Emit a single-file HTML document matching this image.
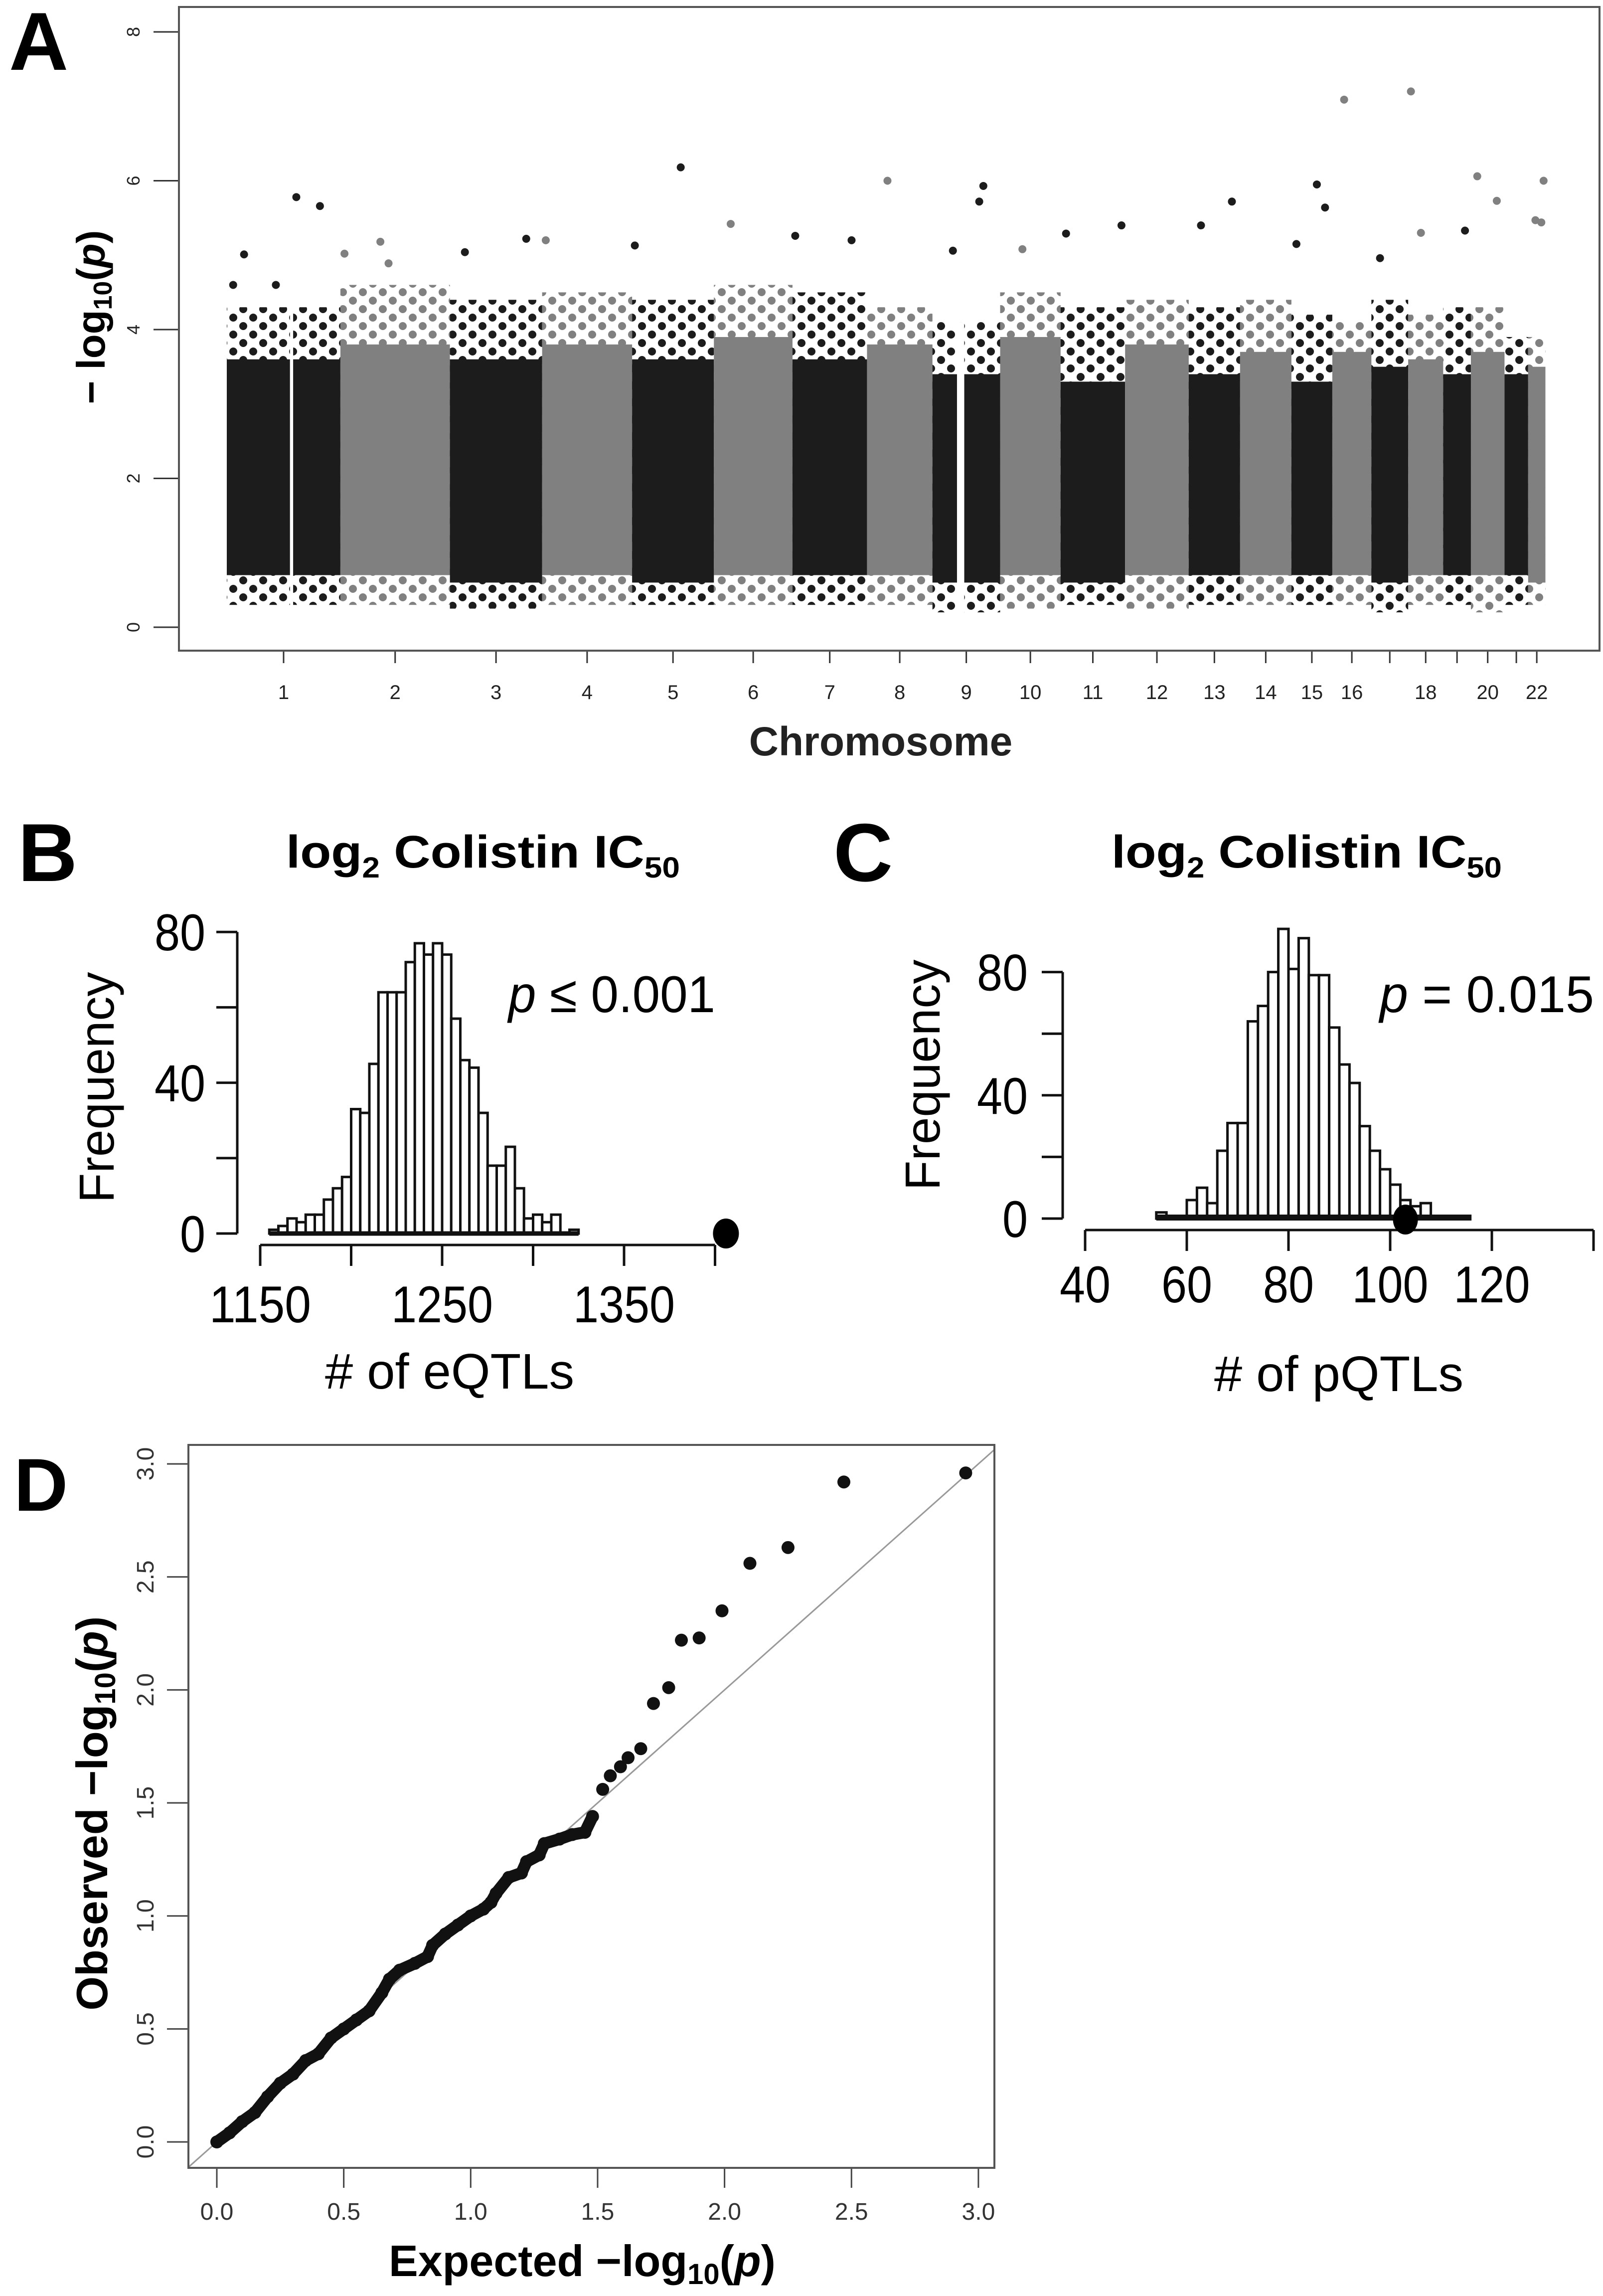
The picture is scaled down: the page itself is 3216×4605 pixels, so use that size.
<!DOCTYPE html>
<html><head><meta charset="utf-8">
<style>
html,body{margin:0;padding:0;background:#fff;}
svg{display:block;}
text{font-family:"Liberation Sans",sans-serif;}
.nar{font-family:"Liberation Sans Narrow","Liberation Sans",sans-serif;}
</style></head>
<body>
<svg id="fig" width="3216" height="4605" viewBox="0 0 3216 4605" xmlns="http://www.w3.org/2000/svg">
<defs>
<pattern id="dotsK" x="0" y="0" width="40" height="34" patternUnits="userSpaceOnUse"><circle cx="8" cy="8" r="8" fill="#1c1c1c"/><circle cx="28" cy="25" r="8" fill="#1c1c1c"/></pattern>
<pattern id="dotsG" x="0" y="0" width="40" height="34" patternUnits="userSpaceOnUse"><circle cx="8" cy="8" r="8" fill="#808080"/><circle cx="28" cy="25" r="8" fill="#808080"/></pattern>
<clipPath id="qqclip"><rect x="378" y="2898" width="1617" height="1450"/></clipPath>
</defs>
<text x="18" y="140" font-size="165" font-weight="bold">A</text>
<text x="36" y="1767" font-size="165" font-weight="bold">B</text>
<text x="1672" y="1767" font-size="165" font-weight="bold">C</text>
<text x="28" y="3030" font-size="150" font-weight="bold">D</text>

<g id="panelA"></g>
<rect x="359" y="14" width="2850" height="1291" fill="none" stroke="#555" stroke-width="4"/>
<text transform="translate(210,636) rotate(-90)" text-anchor="middle" font-size="80" font-weight="bold">− log<tspan font-size="52" dy="14">10</tspan><tspan dy="-14">(</tspan><tspan font-style="italic">p</tspan>)</text>
<text x="1767" y="1515" text-anchor="middle" font-size="82" font-weight="bold" fill="#222">Chromosome</text>

<g id="panelB"></g>
<text x="574" y="1740" font-size="92" font-weight="bold" textLength="790" lengthAdjust="spacingAndGlyphs">log<tspan font-size="58" dy="20">2</tspan><tspan dy="-20"> Colistin IC</tspan><tspan font-size="58" dy="20">50</tspan></text>
<text x="1020" y="2030" font-size="104" textLength="415" lengthAdjust="spacingAndGlyphs"><tspan font-style="italic">p</tspan> ≤ 0.001</text>
<text transform="translate(228,2181) rotate(-90)" text-anchor="middle" font-size="98">Frequency</text>
<text x="652" y="2785" font-size="100" textLength="500" lengthAdjust="spacingAndGlyphs"># of eQTLs</text>

<g id="panelC"></g>
<text x="2230" y="1740" font-size="92" font-weight="bold" textLength="783" lengthAdjust="spacingAndGlyphs">log<tspan font-size="58" dy="20">2</tspan><tspan dy="-20"> Colistin IC</tspan><tspan font-size="58" dy="20">50</tspan></text>
<text x="2768" y="2030" font-size="104" textLength="430" lengthAdjust="spacingAndGlyphs"><tspan font-style="italic">p</tspan> = 0.015</text>
<text transform="translate(1885,2156) rotate(-90)" text-anchor="middle" font-size="98">Frequency</text>
<text x="2436" y="2790" font-size="100" textLength="500" lengthAdjust="spacingAndGlyphs"># of pQTLs</text>

<g id="panelD"></g>
<rect x="378" y="2898" width="1617" height="1450" fill="none" stroke="#555" stroke-width="4"/>
<text transform="translate(215,3637) rotate(-90)" text-anchor="middle" font-size="88" font-weight="bold">Observed −log<tspan font-size="58" dy="16">10</tspan><tspan dy="-16">(</tspan><tspan font-style="italic">p</tspan>)</text>
<text x="1168" y="4565" text-anchor="middle" font-size="88" font-weight="bold">Expected −log<tspan font-size="58" dy="16">10</tspan><tspan dy="-16">(</tspan><tspan font-style="italic">p</tspan>)</text>
</svg>
<script>
const NS="http://www.w3.org/2000/svg";
const chromNames=["1","2","3","4","5","6","7","8","9","10","11","12","13","14","15","16","17","18","19","20","21","22"];
const chromLengths=[250,241,203,198,180,173,164,144,149,133,142,140,113,113,90,86,81,77,61,74,52,38];
const chromShown=[1,1,1,1,1,1,1,1,1,1,1,1,1,1,1,1,0,1,0,1,0,1];
const coreTop=[3.6,3.8,3.6,3.8,3.6,3.9,3.6,3.8,3.4,3.9,3.3,3.8,3.4,3.7,3.3,3.7,3.5,3.6,3.4,3.7,3.4,3.5];
const fringeTop=[4.3,4.6,4.4,4.5,4.4,4.6,4.5,4.3,4.1,4.5,4.3,4.4,4.3,4.4,4.2,4.1,4.4,4.2,4.3,4.3,3.9,3.9];
const coreBottom=[0.7,0.7,0.6,0.7,0.6,0.7,0.7,0.7,0.6,0.7,0.6,0.7,0.7,0.7,0.7,0.7,0.6,0.7,0.7,0.7,0.7,0.6];
const fringeBottom=[0.3,0.3,0.25,0.3,0.3,0.3,0.3,0.3,0.2,0.25,0.3,0.25,0.3,0.3,0.3,0.3,0.2,0.3,0.3,0.2,0.3,0.3];
const gapChrom=[0,8];
const gapStart=[139,54];
const gapEnd=[146,70];
const peakPos=[153,205,38,14,108,338,356,259,524,659,702,999,898,1109,1251,1375,1454,1665,1656,1598,1751,1847,1969,2144,2212,2399,2417,2354,2459,2538,2606,2628,2725,2752,2795,2898,2880,2893];
const peakVal=[5.78,5.66,5.01,4.6,4.6,5.18,4.89,5.02,5.04,5.22,5.2,6.18,5.13,5.42,5.26,5.2,6.0,5.93,5.72,5.06,5.08,5.29,5.4,5.4,5.72,5.95,5.64,5.15,7.09,4.96,7.2,5.3,5.33,6.06,5.73,6.0,5.47,5.44];
const yTicksA=[0,2,4,6,8];

const binStartB=1155, binWidthB=5;
const countsB=[1,2,4,3,5,5,9,12,15,33,32,45,64,64,64,72,77,74,77,74,57,46,44,32,18,18,23,12,4,5,3,5,0,1];
const observedB=1406;
const xTicksB=[1150,1200,1250,1300,1350,1400];
const xLabelsB=["1150","","1250","","1350",""];
const yTicksB=[0,20,40,60,80];
const yLabelsB=["0","","40","","80"];

const binStartC=54, binWidthC=2;
const countsC=[2,0,0,6,10,5,22,31,31,64,69,80,94,81,91,79,79,62,50,44,30,22,16,11,6,4,5];
const nullRangeC=[54,116];
const observedC=103;
const xTicksC=[40,60,80,100,120,140];
const xLabelsC=["40","60","80","100","120",""];
const yTicksC=[0,20,40,60,80];
const yLabelsC=["0","","40","","80"];

const qqExpected=[0,0.05,0.1,0.15,0.2,0.25,0.3,0.35,0.4,0.45,0.5,0.55,0.6,0.65,0.68,0.72,0.78,0.83,0.85,0.9,0.95,1.0,1.05,1.08,1.1,1.15,1.2,1.22,1.27,1.29,1.35,1.4,1.45,1.48,1.52,1.55,1.59,1.62,1.67,1.72,1.78,1.83,1.9,1.99,2.1,2.25,2.47,2.95];
const qqObserved=[0,0.04,0.09,0.13,0.2,0.26,0.3,0.36,0.39,0.46,0.5,0.54,0.58,0.66,0.72,0.76,0.79,0.82,0.87,0.92,0.96,1.0,1.03,1.06,1.1,1.17,1.19,1.24,1.27,1.32,1.34,1.36,1.37,1.44,1.56,1.62,1.66,1.70,1.74,1.94,2.01,2.22,2.23,2.35,2.56,2.63,2.92,2.96];
const qqBulkCount=34;
const qqTicks=[0,0.5,1,1.5,2,2.5,3];
const qqTickLabels=["0.0","0.5","1.0","1.5","2.0","2.5","3.0"];

function mk(tag,attrs,parent){const e=document.createElementNS(NS,tag);for(const k in attrs)e.setAttribute(k,attrs[k]);parent.appendChild(e);return e;}

(function(){
const g=document.getElementById('panelA');
const xA=mb=>455+mb*0.9116;
const yA=v=>1258-v*149.25;
const starts=[];let c=0;for(const L of chromLengths){starts.push(c);c+=L;}
const chromOf=mb=>{for(let i=chromLengths.length-1;i>=0;i--){if(mb>=starts[i])return i;}return 0;};
for(let i=0;i<chromLengths.length;i++){
  const black=i%2===0;
  const x0=xA(starts[i]),x1=xA(starts[i]+chromLengths[i]);
  const f=mk('rect',{x:x0,y:yA(fringeTop[i]),width:x1-x0,height:yA(fringeBottom[i])-yA(fringeTop[i]),fill:black?'url(#dotsK)':'url(#dotsG)'},g);
  
  
  const r=mk('rect',{x:x0,y:yA(coreTop[i]),width:x1-x0,height:yA(coreBottom[i])-yA(coreTop[i]),fill:black?'#1c1c1c':'#808080'},g);
  
  
  const tk=mk('line',{x1:(x0+x1)/2,x2:(x0+x1)/2,y1:1305,y2:1330,stroke:'#333','stroke-width':3},g);
  
  
  if(chromShown[i]){
    const t=mk('text',{x:(x0+x1)/2,y:1402,'text-anchor':'middle','font-size':40,fill:'#222'},g);
    t.textContent=chromNames[i];
    
    
  }
}
for(let k=0;k<gapChrom.length;k++){
  const s=starts[gapChrom[k]];
  const r=mk('rect',{x:xA(s+gapStart[k]),y:yA(fringeTop[gapChrom[k]]),width:xA(s+gapEnd[k])-xA(s+gapStart[k]),height:yA(0)-yA(fringeTop[gapChrom[k]]),fill:'#fff'},g);
  
  
}
for(let k=0;k<peakPos.length;k++){
  const ci=chromOf(peakPos[k]);
  const p=mk('circle',{cx:xA(peakPos[k]),cy:yA(peakVal[k]),r:8,fill:ci%2===0?'#1c1c1c':'#808080'},g);
  
  
}
for(const v of yTicksA){
  const l=mk('line',{x1:308,x2:359,y1:yA(v),y2:yA(v),stroke:'#333','stroke-width':3},g);
  
  
  const t=mk('text',{transform:`translate(280,${yA(v)}) rotate(-90)`,'text-anchor':'middle','font-size':36,fill:'#222'},g);
  t.textContent=String(v);
  
  
}
})();

function hist(g,counts,start,width,xf,yf,baseY,axisY,xTicks,xLabels,yTicks,yLabels,yAxisX,labelRight,xLabelY){
  for(let i=0;i<counts.length;i++){
    const x0=xf(start+i*width),x1=xf(start+(i+1)*width);
    const b=mk('rect',{x:x0,y:yf(counts[i]),width:x1-x0,height:baseY-yf(counts[i]),fill:'#fff',stroke:'#111','stroke-width':5},g);
    
    
  }
  const al=mk('line',{x1:xf(xTicks[0]),x2:xf(xTicks[xTicks.length-1]),y1:axisY,y2:axisY,stroke:'#111','stroke-width':5},g);
  
  
  xTicks.forEach((v,i)=>{
    const t=mk('line',{x1:xf(v),x2:xf(v),y1:axisY,y2:axisY+42,stroke:'#111','stroke-width':5},g);
    
    
    if(xLabels[i]){
      const s=mk('text',{x:xf(v),y:xLabelY,'text-anchor':'middle','font-size':104,textLength:51*xLabels[i].length,lengthAdjust:'spacingAndGlyphs'},g);
      s.textContent=xLabels[i];
      
      
    }
  });
  const yl=mk('line',{x1:yAxisX,x2:yAxisX,y1:yf(yTicks[0]),y2:yf(yTicks[yTicks.length-1]),stroke:'#111','stroke-width':5},g);
  
  
  yTicks.forEach((v,i)=>{
    const t=mk('line',{x1:yAxisX-42,x2:yAxisX,y1:yf(v),y2:yf(v),stroke:'#111','stroke-width':5},g);
    
    
    if(yLabels[i]){
      const s=mk('text',{x:labelRight-51*yLabels[i].length,y:yf(v)+37,'font-size':104,textLength:51*yLabels[i].length,lengthAdjust:'spacingAndGlyphs'},g);
      s.textContent=yLabels[i];
      
      
    }
  });
}

(function(){
const g=document.getElementById('panelB');
const xB=v=>522+(v-1150)*3.65;
const yB=c=>2474-c*7.56;
hist(g,countsB,binStartB,binWidthB,xB,yB,2474,2497,xTicksB,xLabelsB,yTicksB,yLabelsB,476,412,2652);
const bl=mk('line',{x1:xB(binStartB),x2:xB(binStartB+countsB.length*binWidthB),y1:2474,y2:2474,stroke:'#111','stroke-width':9},g);


const d=mk('ellipse',{cx:xB(observedB),cy:2474,rx:26,ry:30,fill:'#000'},g);


})();

(function(){
const g=document.getElementById('panelC');
const xC=v=>2177+(v-40)*10.2;
const yC=c=>2444-c*6.18;
hist(g,countsC,binStartC,binWidthC,xC,yC,2444,2467,xTicksC,xLabelsC,yTicksC,yLabelsC,2132,2062,2612);
const bl=mk('line',{x1:xC(nullRangeC[0]),x2:xC(nullRangeC[1]),y1:2442,y2:2442,stroke:'#111','stroke-width':12},g);


const d=mk('ellipse',{cx:xC(observedC),cy:2446,rx:25,ry:30,fill:'#000'},g);


})();

(function(){
const g=document.getElementById('panelD');
const xD=v=>435+v*509.3;
const yD=v=>4296-v*453.3;
const dl=mk('line',{x1:xD(-0.2),y1:yD(-0.2),x2:xD(3.3),y2:yD(3.3),stroke:'#999','stroke-width':3,'clip-path':'url(#qqclip)'},g);


let pts='';
for(let i=0;i<qqBulkCount;i++)pts+=xD(qqExpected[i])+','+yD(qqObserved[i])+' ';
const pl=mk('polyline',{points:pts,fill:'none',stroke:'#111','stroke-width':24,'stroke-linejoin':'round','stroke-linecap':'round'},g);


for(let i=0;i<qqExpected.length;i++){
  const c=mk('circle',{cx:xD(qqExpected[i]),cy:yD(qqObserved[i]),r:13,fill:'#111'},g);
  
  
}
qqTicks.forEach((v,i)=>{
  const tx=mk('line',{x1:xD(v),x2:xD(v),y1:4348,y2:4388,stroke:'#444','stroke-width':3},g);
  
  
  const lx=mk('text',{x:xD(v),y:4452,'text-anchor':'middle','font-size':48,fill:'#333'},g);
  lx.textContent=qqTickLabels[i];
  
  
  const ty=mk('line',{x1:335,x2:378,y1:yD(v),y2:yD(v),stroke:'#444','stroke-width':3},g);
  
  
  const ly=mk('text',{transform:`translate(308,${yD(v)}) rotate(-90)`,'text-anchor':'middle','font-size':48,fill:'#333'},g);
  ly.textContent=qqTickLabels[i];
  
  
});
})();
</script>
</body></html>
